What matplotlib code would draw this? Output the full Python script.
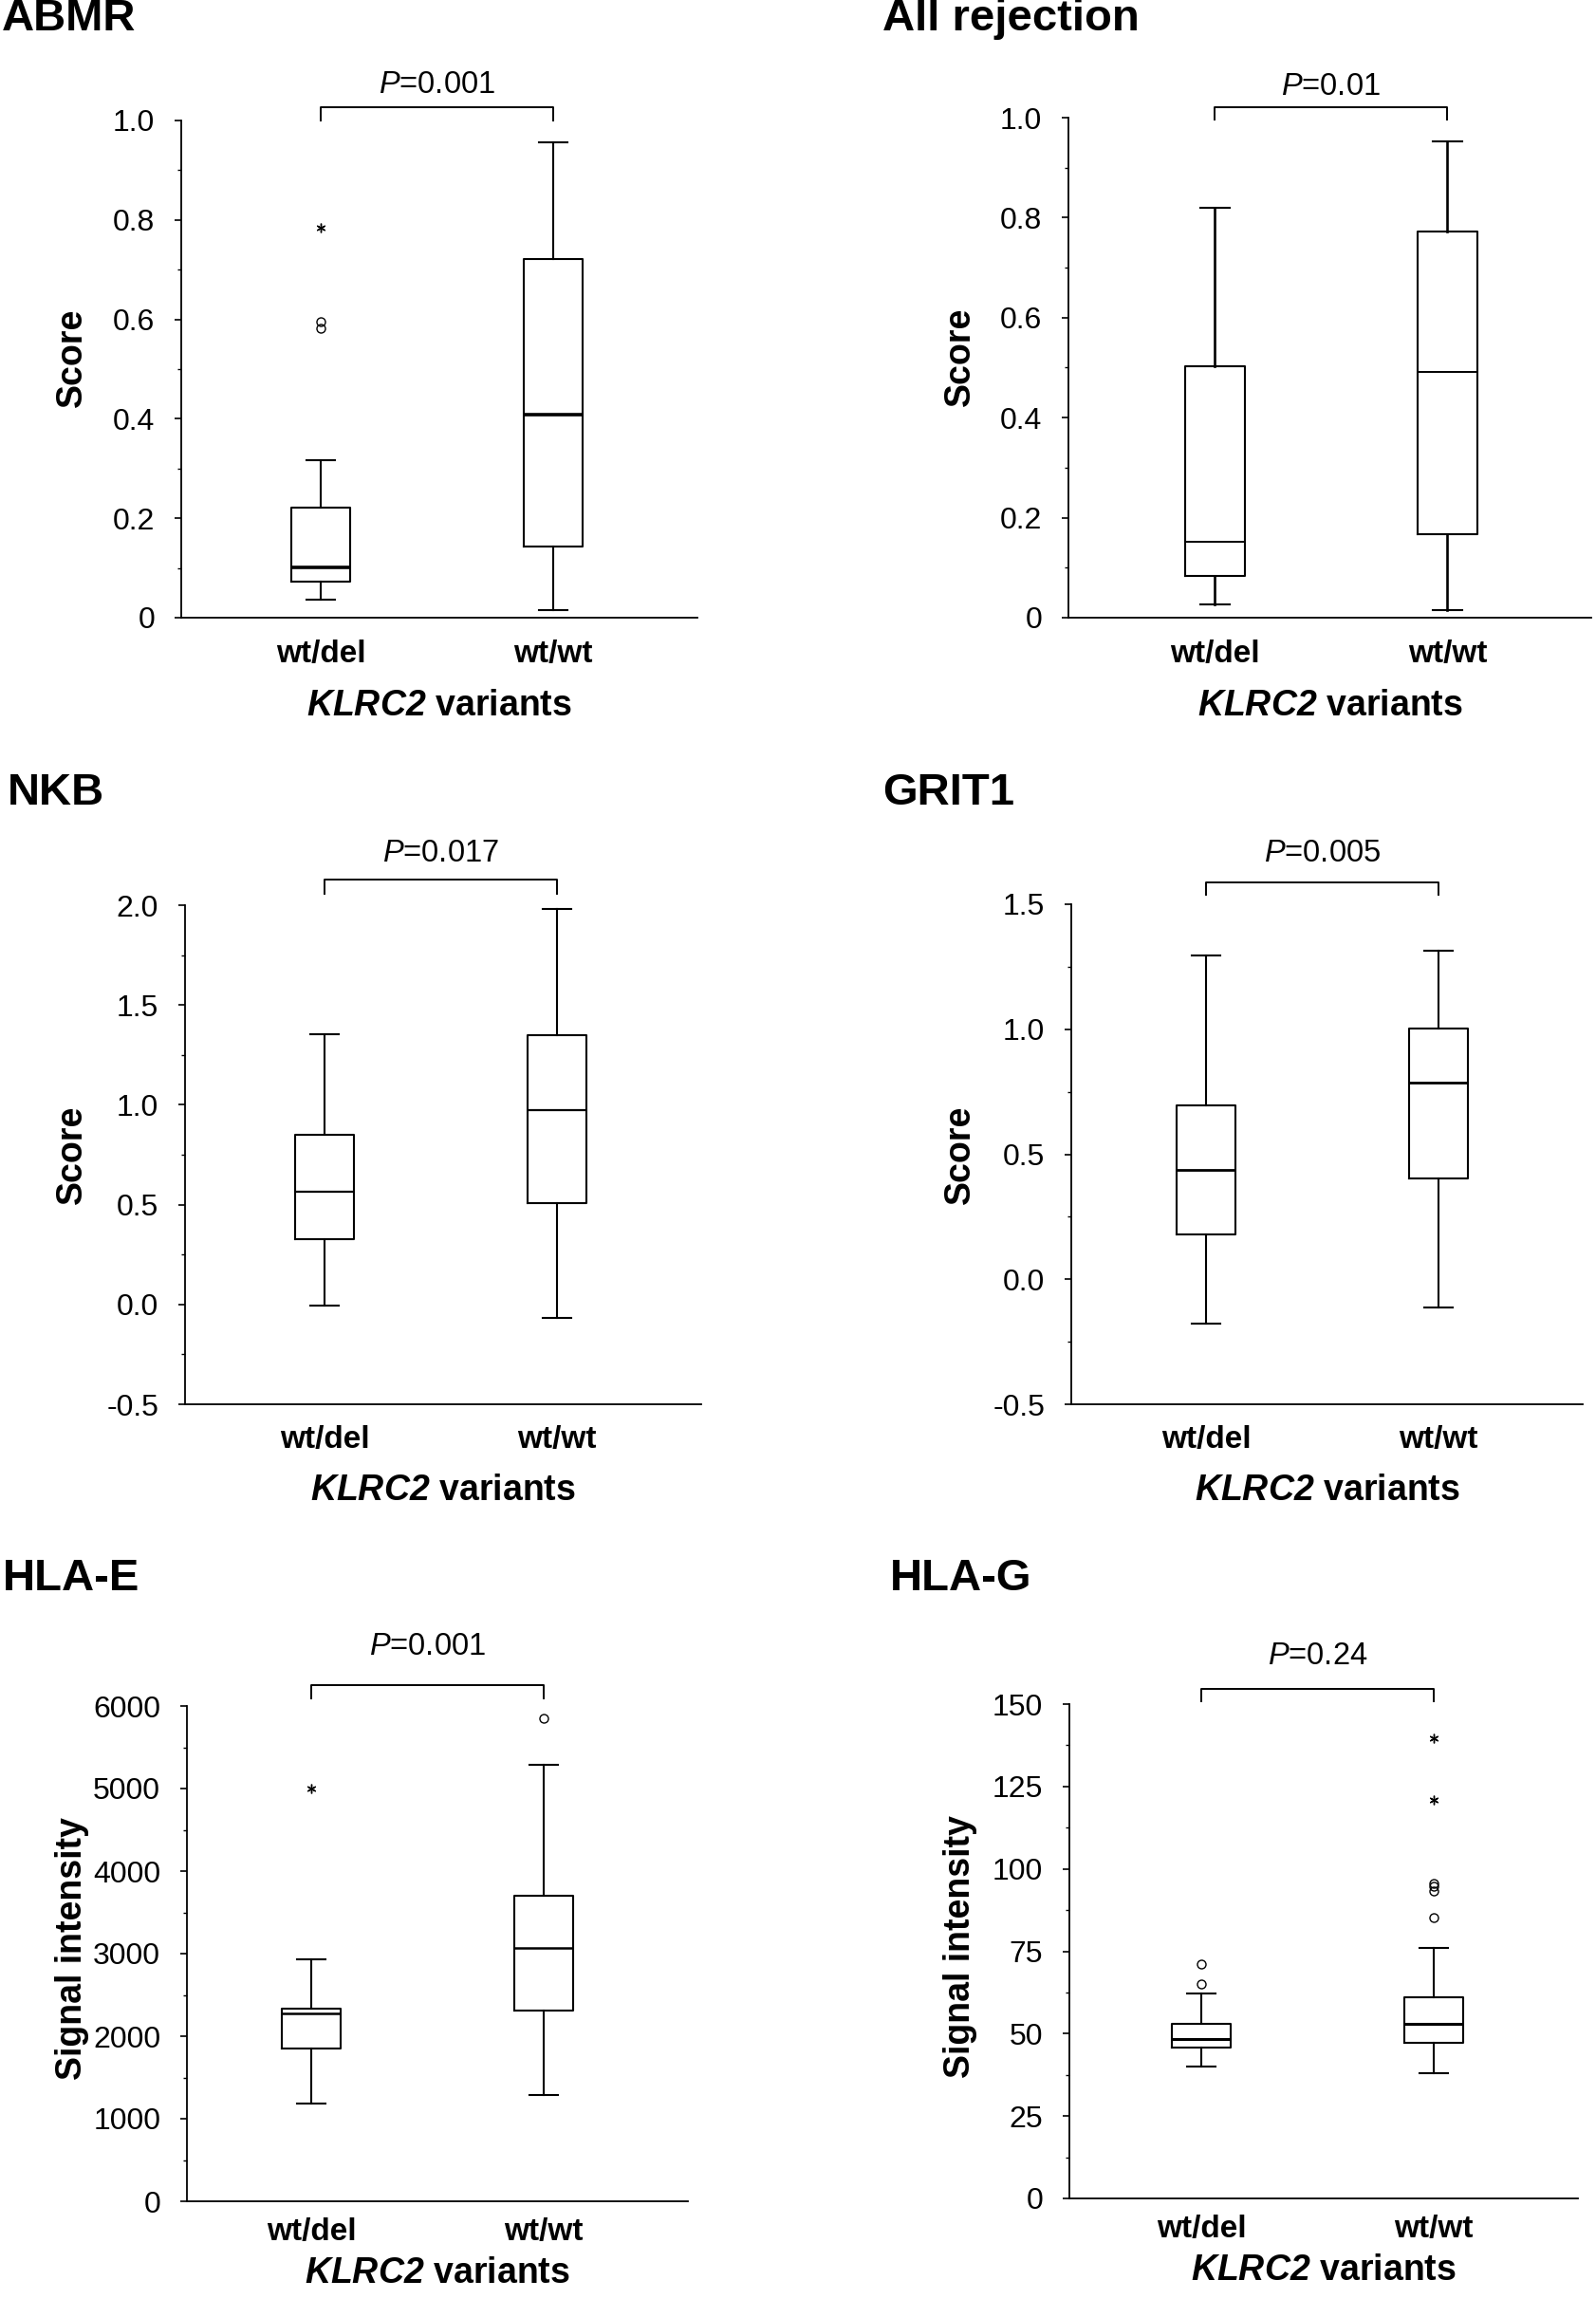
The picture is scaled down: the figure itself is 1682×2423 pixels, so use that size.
import matplotlib
matplotlib.use("Agg")
import matplotlib.pyplot as plt
import matplotlib.transforms as mtransforms
from matplotlib.ticker import MultipleLocator, FuncFormatter

plt.rcParams.update({
    "font.family": ["Liberation Sans", "DejaVu Sans"],
    "mathtext.fontset": "custom",
    "mathtext.rm": "Liberation Sans",
    "mathtext.it": "Liberation Sans:italic",
    "mathtext.bf": "Liberation Sans:bold",
    "mathtext.bfit": "Liberation Sans:bold:italic",
    "axes.unicode_minus": False,
})

W, H, DPI = 1683, 2423, 100

GROUPS = ["wt/del", "wt/wt"]
XLABEL = r"$\mathbfit{KLRC2}$ variants"

# box stats per group: whisker low, Q1, median, Q3, whisker high
ABMR_BOX = [[0.037, 0.073, 0.101, 0.222, 0.317], [0.016, 0.143, 0.409, 0.722, 0.957]]
ABMR_CIRCLES = [[0.583, 0.596], []]
ABMR_STARS = [[0.784], []]

ALLREJ_BOX = [[0.027, 0.084, 0.151, 0.502, 0.820], [0.016, 0.167, 0.492, 0.773, 0.953]]
ALLREJ_CIRCLES = [[], []]
ALLREJ_STARS = [[], []]

NKB_BOX = [[-0.007, 0.326, 0.564, 0.850, 1.353], [-0.068, 0.508, 0.972, 1.351, 1.981]]
NKB_CIRCLES = [[], []]
NKB_STARS = [[], []]

GRIT1_BOX = [[-0.178, 0.179, 0.439, 0.695, 1.294], [-0.112, 0.402, 0.788, 1.004, 1.313]]
GRIT1_CIRCLES = [[], []]
GRIT1_STARS = [[], []]

HLAE_BOX = [[1186, 1850, 2272, 2331, 2930], [1286, 2314, 3065, 3699, 5285]]
HLAE_CIRCLES = [[], [5854]]
HLAE_STARS = [[5003], []]

HLAG_BOX = [[39.9, 45.9, 48.3, 53.1, 62.1], [38.0, 47.1, 53.1, 60.9, 76.1]]
HLAG_CIRCLES = [[65.0, 71.0], [85.3, 93.4, 94.6, 95.6]]
HLAG_STARS = [[], [120.8, 139.7]]

P_TEXTS = ["0.001", "0.01", "0.017", "0.005", "0.001", "0.24"]


def fmt_plain(v, pos):
    if abs(v) < 1e-9:
        return "0"
    return f"{v:g}"


def fmt_one(v, pos):
    if abs(v) < 1e-9:
        return "0.0"
    return f"{v:.1f}"


def fmt_abmr(v, pos):
    if abs(v) < 1e-9:
        return "0"
    return f"{v:.1f}"


# layout in pixels: spine x, top y, bottom y, left xlim, label offsets
panels = [
    dict(title="ABMR", tx=2, ty=20, box=ABMR_BOX, circ=ABMR_CIRCLES, star=ABMR_STARS,
         ylabel="Score", ylim=(0, 1.0), major=0.2, minor=0.1, fmt=fmt_abmr,
         x0=191, xl=0.40, top=127, bot=651, br=(14, 0, 37), medlw=2.6, whislw=1.5,
         catpad=16.5, xlab=93, yl_shift=12),
    dict(title="All rejection", tx=930, ty=20, box=ALLREJ_BOX, circ=ALLREJ_CIRCLES, star=ALLREJ_STARS,
         ylabel="Score", ylim=(0, 1.0), major=0.2, minor=0.1, fmt=fmt_abmr,
         x0=1126, xl=0.37, top=124, bot=651, br=(11, -2, 33), medlw=1.4, whislw=1.9,
         catpad=16.5, xlab=93, yl_shift=12),
    dict(title="NKB", tx=8, ty=836, box=NKB_BOX, circ=NKB_CIRCLES, star=NKB_STARS,
         ylabel="Score", ylim=(-0.5, 2.0), major=0.5, minor=0.25, fmt=fmt_one,
         x0=195, xl=0.40, top=954, bot=1480, br=(27, 12, 54), medlw=1.6, whislw=1.5,
         catpad=16, xlab=91, yl_shift=0),
    dict(title="GRIT1", tx=930, ty=836, box=GRIT1_BOX, circ=GRIT1_CIRCLES, star=GRIT1_STARS,
         ylabel="Score", ylim=(-0.5, 1.5), major=0.5, minor=0.25, fmt=fmt_one,
         x0=1129, xl=0.42, top=953, bot=1480, br=(23, 10, 53), medlw=2.0, whislw=1.5,
         catpad=16, xlab=91, yl_shift=0),
    dict(title="HLA-E", tx=3, ty=1664, box=HLAE_BOX, circ=HLAE_CIRCLES, star=HLAE_STARS,
         ylabel="Signal intensity", ylim=(0, 6000), major=1000, minor=500, fmt=fmt_plain,
         x0=197, xl=0.465, top=1798, bot=2320, br=(22, 8, 62), medlw=1.8, whislw=1.5,
         catpad=12, xlab=76, yl_shift=5),
    dict(title="HLA-G", tx=938, ty=1664, box=HLAG_BOX, circ=HLAG_CIRCLES, star=HLAG_STARS,
         ylabel="Signal intensity", ylim=(0, 150), major=25, minor=12.5, fmt=fmt_plain,
         x0=1127, xl=0.433, top=1796, bot=2317, br=(16, 3, 50), medlw=2.2, whislw=1.5,
         catpad=12, xlab=76, yl_shift=5),
]

UNIT = 245  # pixels between the two groups
XR = 2.62
LW = 1.5

fig = plt.figure(figsize=(W / DPI, H / DPI), dpi=DPI)
fig.patch.set_facecolor("white")

for p, ptxt in zip(panels, P_TEXTS):
    ax_w = (XR - p["xl"]) * UNIT
    rect = [p["x0"] / W, (H - p["bot"]) / H, ax_w / W, (p["bot"] - p["top"]) / H]
    ax = fig.add_axes(rect)
    hpx = p["bot"] - p["top"]

    stats = []
    for g, b, c in zip(GROUPS, p["box"], p["circ"]):
        stats.append(dict(label=g, whislo=b[0], q1=b[1], med=b[2], q3=b[3], whishi=b[4], fliers=c))
    ax.bxp(stats, positions=[1, 2], widths=0.255, capwidths=0.125, showfliers=True,
           boxprops=dict(color="black", linewidth=LW),
           whiskerprops=dict(color="black", linewidth=p["whislw"]),
           capprops=dict(color="black", linewidth=LW),
           medianprops=dict(color="black", linewidth=p["medlw"]),
           flierprops=dict(marker="o", markersize=6.5, markerfacecolor="none",
                           markeredgecolor="black", markeredgewidth=1.0))
    for pos, s in zip([1, 2], p["star"]):
        if s:
            ax.plot([pos] * len(s), s, linestyle="none", marker=(6, 2, 0),
                    markersize=7, markeredgewidth=1.0, color="black")

    ax.set_xlim(p["xl"], XR)
    ax.set_ylim(*p["ylim"])
    ax.yaxis.set_major_locator(MultipleLocator(p["major"]))
    ax.yaxis.set_minor_locator(MultipleLocator(p["minor"]))
    ax.yaxis.set_major_formatter(FuncFormatter(p["fmt"]))
    ax.tick_params(axis="y", which="major", direction="out", length=5, width=1.2,
                   labelsize=23, pad=15)
    ax.tick_params(axis="y", which="minor", direction="out", length=3, width=1.0)
    ax.set_xticks([1, 2])
    ax.set_xticklabels(GROUPS, fontsize=24, fontweight="bold")
    ax.tick_params(axis="x", length=0, pad=p["catpad"])
    for side in ["top", "right"]:
        ax.spines[side].set_visible(False)
    for side in ["left", "bottom"]:
        ax.spines[side].set_linewidth(1.3)

    ax.text(0.5, -p["xlab"] / hpx, XLABEL, transform=ax.transAxes,
            ha="center", va="center", fontsize=27, fontweight="bold")

    fig.text(p["tx"] / W, 1 - p["ty"] / H, p["title"], ha="left", va="center",
             fontsize=34, fontweight="bold")
    ylx = 76 if p["x0"] < 800 else 1012
    yly = (p["top"] + p["bot"]) / 2 - p["yl_shift"]
    fig.text(ylx / W, 1 - yly / H, p["ylabel"], rotation=90,
             ha="center", va="center", fontsize=27, fontweight="bold")

    br_up, leg_up, txt_up = p["br"]
    trans = mtransforms.blended_transform_factory(ax.transData, ax.transAxes)
    yb = 1 + br_up / hpx
    yl = 1 + leg_up / hpx
    ax.plot([1, 1, 2, 2], [yl, yb, yb, yl], transform=trans, clip_on=False,
            color="black", linewidth=1.4)
    ax.text(1.5, 1 + txt_up / hpx, r"$\mathit{P}$=" + ptxt, transform=trans,
            ha="center", va="center", fontsize=23.5)

fig.savefig("out.png", dpi=DPI, facecolor="white")
